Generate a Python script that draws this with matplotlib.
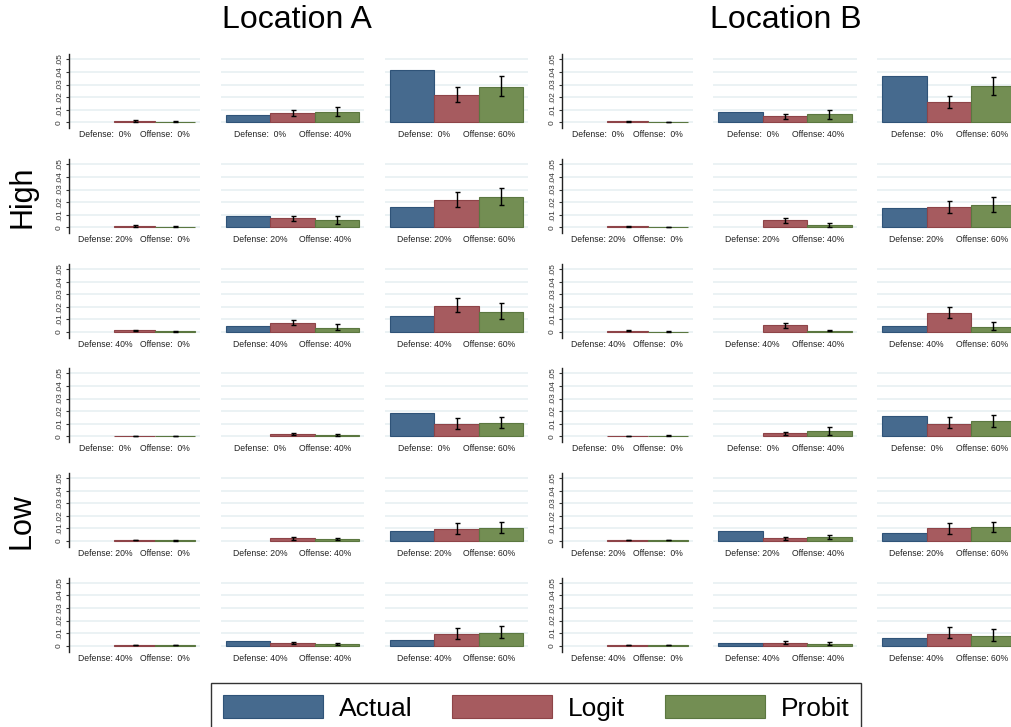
import numpy as np
import matplotlib
matplotlib.use("Agg")
import matplotlib.pyplot as plt
from matplotlib.patches import Patch

plt.rcParams['font.family'] = ['Liberation Sans', 'DejaVu Sans']

# rows: defense 0/20/40 (High), defense 0/20/40 (Low); cols: offense 0/40/60
defense = ['0%', '20%', '40%', '0%', '20%', '40%']
offense = ['0%', '40%', '60%']
series = ['Actual', 'Logit', 'Probit']

# Location A
actual_a = [[0, 0.006, 0.042], [0, 0.0088, 0.016], [0, 0.0045, 0.0128],
            [0, 0, 0.0186], [0, 0, 0.0077], [0, 0.004, 0.0042]]
logit_a = [[0.001, 0.0075, 0.022], [0.001, 0.0072, 0.022], [0.0013, 0.0072, 0.021],
           [0.0003, 0.002, 0.0096], [0.0007, 0.0022, 0.0095], [0.0005, 0.002, 0.0093]]
logit_a_lo = [[0.0005, 0.005, 0.016], [0.0005, 0.0048, 0.016], [0.0009, 0.0053, 0.016],
              [0.0001, 0.0008, 0.0056], [0.0004, 0.001, 0.0058], [0.0002, 0.001, 0.0055]]
logit_a_hi = [[0.0015, 0.0095, 0.028], [0.0015, 0.0093, 0.0277], [0.0017, 0.0093, 0.027],
              [0.0005, 0.003, 0.0143], [0.001, 0.0032, 0.014], [0.0008, 0.003, 0.0137]]
probit_a = [[0.0005, 0.0085, 0.028], [0.0005, 0.006, 0.024], [0.0005, 0.0032, 0.016],
            [0.0003, 0.0012, 0.0107], [0.0004, 0.0013, 0.0105], [0.0005, 0.0013, 0.0105]]
probit_a_lo = [[0.0, 0.005, 0.021], [0.0002, 0.003, 0.0175], [0.0002, 0.0013, 0.0104],
               [0.0001, 0.0, 0.0065], [0.0001, 0.0004, 0.0066], [0.0002, 0.0003, 0.0063]]
probit_a_hi = [[0.0012, 0.0125, 0.037], [0.0008, 0.009, 0.031], [0.0008, 0.006, 0.0234],
               [0.0005, 0.002, 0.0155], [0.0007, 0.0024, 0.0152], [0.0008, 0.0024, 0.0153]]

# Location B
actual_b = [[0, 0.008, 0.0365], [0, 0, 0.015], [0, 0, 0.0045],
            [0, 0, 0.016], [0, 0.0077, 0.006], [0, 0.0021, 0.006]]
logit_b = [[0.001, 0.005, 0.016], [0.001, 0.0055, 0.016], [0.001, 0.0053, 0.0154],
           [0.0003, 0.0025, 0.0101], [0.0007, 0.0023, 0.010], [0.0005, 0.0024, 0.0097]]
logit_b_lo = [[0.0006, 0.003, 0.011], [0.0006, 0.0032, 0.011], [0.0006, 0.0035, 0.011],
              [0.0001, 0.001, 0.0064], [0.0004, 0.001, 0.0058], [0.0002, 0.001, 0.0058]]
logit_b_hi = [[0.0014, 0.007, 0.021], [0.0014, 0.0072, 0.0207], [0.0014, 0.0072, 0.020],
              [0.0005, 0.0037, 0.015], [0.001, 0.0033, 0.0147], [0.0008, 0.0037, 0.0145]]
probit_b = [[0.0002, 0.0065, 0.029], [0.0003, 0.0016, 0.018], [0.0003, 0.0008, 0.004],
            [0.0005, 0.004, 0.012], [0.0007, 0.003, 0.0108], [0.0005, 0.0016, 0.0074]]
probit_b_lo = [[0.0, 0.003, 0.022], [0.0001, 0.0, 0.0125], [0.0001, 0.0004, 0.0013],
               [0.0002, 0.0013, 0.0077], [0.0004, 0.0013, 0.0068], [0.0002, 0.0003, 0.0034]]
probit_b_hi = [[0.0004, 0.010, 0.036], [0.0005, 0.0032, 0.024], [0.0005, 0.0012, 0.008],
               [0.0008, 0.0072, 0.0168], [0.001, 0.0045, 0.0153], [0.0008, 0.0032, 0.013]]

colors = ['#466a8e', '#a65b5f', '#738e53']
edges = ['#2f5378', '#8e4448', '#5b7740']
grid_col = '#e8f0f2'

W, H = 1011, 727
fig = plt.figure(figsize=(W / 100, H / 100), dpi=100)

# pixel geometry of the panels
col_x = [(69, 200), (221, 364), (385, 528), (562, 693), (713, 857), (877, 1021)]
row_top = [54.2, 159.2, 263.9, 368.2, 472.9, 577.6]
ax_h = 74

locations = [
    (actual_a, logit_a, logit_a_lo, logit_a_hi, probit_a, probit_a_lo, probit_a_hi),
    (actual_b, logit_b, logit_b_lo, logit_b_hi, probit_b, probit_b_lo, probit_b_hi),
]

for li, (act, lg, lg_lo, lg_hi, pb, pb_lo, pb_hi) in enumerate(locations):
    for r in range(6):
        for c in range(3):
            x0, x1 = col_x[li * 3 + c]
            top = row_top[r]
            ax = fig.add_axes([x0 / W, 1 - (top + ax_h) / H, (x1 - x0) / W, ax_h / H])
            vals = [act[r][c], lg[r][c], pb[r][c]]
            lws = [0.8 if v > 0 else 0 for v in vals]
            ax.bar(range(3), vals, width=1.0, color=colors, edgecolor=edges,
                   linewidth=lws, zorder=2)
            for k, (v, lo, hi) in enumerate([(lg[r][c], lg_lo[r][c], lg_hi[r][c]),
                                             (pb[r][c], pb_lo[r][c], pb_hi[r][c])]):
                ax.errorbar(k + 1, v, yerr=[[v - lo], [hi - v]], fmt='none',
                            ecolor='black', elinewidth=1.0, capsize=1.8,
                            capthick=1.0, zorder=3)
            ax.set_xlim(-0.62, 2.62)
            ax.set_ylim(-0.0047, 0.0542)
            ax.set_yticks([0, 0.01, 0.02, 0.03, 0.04, 0.05])
            ax.set_yticklabels(['0', '.01', '.02', '.03', '.04', '.05'])
            ax.grid(axis='y', color=grid_col, linewidth=1.2, zorder=0)
            ax.set_axisbelow(True)
            ax.set_xticks([])
            for s in ['top', 'right', 'bottom']:
                ax.spines[s].set_visible(False)
            if c == 0:
                ax.spines['left'].set_color('#222222')
                ax.spines['left'].set_linewidth(1.0)
                ax.tick_params(axis='y', labelrotation=90, labelsize=6,
                               length=2.5, width=0.8, pad=2,
                               colors='#333333')
                for lab in ax.get_yticklabels():
                    lab.set_va('center')
            else:
                ax.spines['left'].set_visible(False)
                ax.tick_params(axis='y', left=False, labelleft=False)
            ax.text(0.275, -0.09, 'Defense: ' + f'{defense[r]:>3}', transform=ax.transAxes,
                    ha='center', va='center', fontsize=6.2, color='#222222')
            ax.text(0.73, -0.09, 'Offense: ' + f'{offense[c]:>3}', transform=ax.transAxes,
                    ha='center', va='center', fontsize=6.2, color='#222222')

fig.text(297 / W, 1 - 20 / H, 'Location A', ha='center', va='center', fontsize=23)
fig.text(786 / W, 1 - 20 / H, 'Location B', ha='center', va='center', fontsize=23)
fig.text(22 / W, 1 - 197 / H, 'High', ha='center', va='center', fontsize=22,
         rotation=90)
fig.text(22 / W, 1 - 521 / H, 'Low', ha='center', va='center', fontsize=22,
         rotation=90)

handles = [Patch(facecolor=colors[i], edgecolor=edges[i], linewidth=0.8, label=series[i])
           for i in range(3)]
leg = fig.legend(handles=handles, loc='upper center', ncol=3,
                 bbox_to_anchor=(536 / W, 1 - 683 / H), fontsize=19,
                 frameon=True, fancybox=False, edgecolor='black',
                 handlelength=3.8, handleheight=1.0, handletextpad=0.6,
                 columnspacing=1.5, borderpad=0.45, borderaxespad=0)
leg.get_frame().set_linewidth(1.0)

fig.savefig('out.png', dpi=100)
